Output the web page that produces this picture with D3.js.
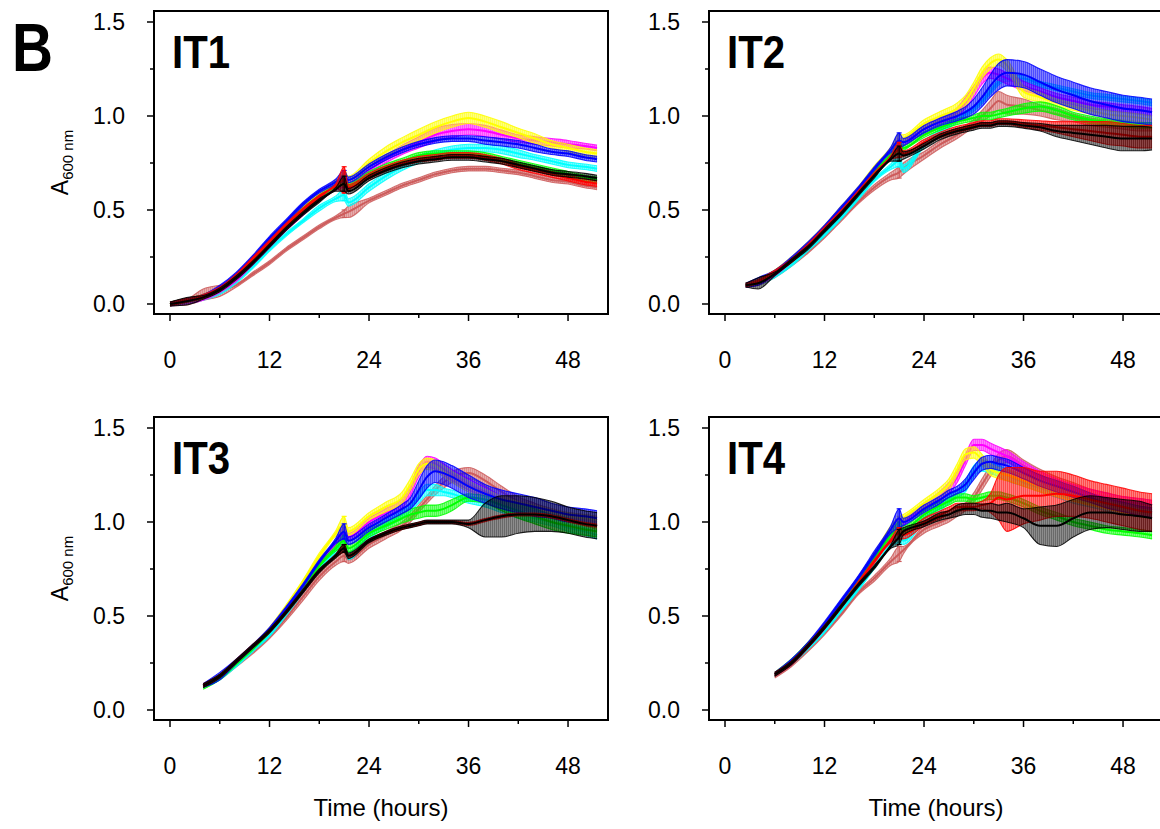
<!DOCTYPE html>
<html><head><meta charset="utf-8">
<script src="https://cdn.jsdelivr.net/npm/d3@7"></script>
<style>
body{margin:0;background:#fff}
svg{display:block}
text{font-family:"Liberation Sans",Arial,Helvetica,sans-serif;fill:#000}
</style>
</head><body>
<svg id="chart" width="1160" height="829"></svg>
<script>
// ---------------- DATA ----------------
const panelNames = ["IT1","IT2","IT3","IT4"];
const xTicks = [0,12,24,36,48];
const xMinorTicks = [6,18,30,42];
const yTicks = [0,0.5,1.0,1.5];
const yMinorTicks = [0.25,0.75,1.25];
const seriesNames = ["brown","cyan","magenta","yellow","green","blue","red","black"];
const seriesColors = ["#cd5c5c","#00ffff","#ff00ff","#ffff00","#00ff00","#0000ff","#ff0000","#000000"];

// IT1
const it1Times   = [0,2,4,6,8,10,12,14,16,18,20,21,21.5,24,26,28,30,32,34,36,38,40,42,44,46,48,50,51.5];
const it1Yellow  = [0.0,0.02,0.04,0.08,0.15,0.24,0.34,0.43,0.51,0.58,0.64,0.67,0.66,0.75,0.81,0.86,0.9,0.94,0.97,0.99,0.97,0.94,0.91,0.88,0.85,0.83,0.81,0.8];
const it1Magenta = [0.0,0.01,0.03,0.07,0.13,0.22,0.31,0.4,0.48,0.56,0.62,0.65,0.63,0.71,0.77,0.82,0.86,0.9,0.92,0.93,0.92,0.9,0.88,0.87,0.86,0.85,0.84,0.83];
const it1Blue    = [0.0,0.02,0.04,0.09,0.16,0.25,0.35,0.44,0.53,0.6,0.65,0.68,0.66,0.73,0.78,0.82,0.85,0.87,0.88,0.88,0.87,0.86,0.85,0.83,0.81,0.8,0.78,0.77];
const it1Cyan    = [0.0,0.01,0.03,0.06,0.12,0.2,0.29,0.37,0.44,0.51,0.56,0.58,0.54,0.62,0.68,0.73,0.77,0.8,0.82,0.83,0.83,0.82,0.8,0.78,0.76,0.74,0.73,0.72];
const it1Green   = [0.0,0.02,0.04,0.08,0.15,0.24,0.33,0.42,0.5,0.57,0.63,0.66,0.63,0.69,0.73,0.76,0.79,0.8,0.8,0.8,0.79,0.77,0.75,0.73,0.71,0.69,0.67,0.66];
const it1Red     = [0.0,0.02,0.04,0.08,0.15,0.24,0.33,0.42,0.5,0.57,0.63,0.66,0.62,0.68,0.72,0.75,0.77,0.78,0.79,0.79,0.78,0.76,0.73,0.71,0.69,0.67,0.65,0.64];
const it1Black   = [0.0,0.015,0.035,0.075,0.14,0.22,0.31,0.4,0.48,0.55,0.61,0.64,0.6,0.67,0.71,0.74,0.76,0.77,0.78,0.78,0.77,0.76,0.74,0.72,0.7,0.69,0.68,0.67];
const it1Brown   = [0.0,0.01,0.05,0.07,0.1,0.16,0.22,0.29,0.35,0.41,0.46,0.48,0.49,0.55,0.59,0.63,0.66,0.69,0.71,0.72,0.72,0.71,0.7,0.68,0.66,0.65,0.63,0.62];
const it1YellowSd  = [0.01,0.01,0.01,0.01,0.01,0.01,0.01,0.01,0.01,0.015,0.02,0.03,0.02,0.02,0.025,0.025,0.03,0.03,0.03,0.03,0.03,0.03,0.025,0.025,0.02,0.02,0.02,0.02];
const it1MagentaSd = [0.01,0.01,0.01,0.01,0.01,0.01,0.01,0.01,0.01,0.01,0.015,0.03,0.015,0.02,0.02,0.025,0.03,0.035,0.035,0.03,0.03,0.025,0.02,0.02,0.02,0.02,0.015,0.015];
const it1BlueSd    = [0.01,0.01,0.01,0.01,0.01,0.01,0.01,0.01,0.01,0.01,0.015,0.03,0.015,0.015,0.015,0.015,0.015,0.015,0.015,0.015,0.02,0.02,0.02,0.02,0.015,0.015,0.015,0.015];
const it1CyanSd    = [0.01,0.01,0.01,0.01,0.01,0.01,0.01,0.01,0.01,0.015,0.015,0.03,0.02,0.02,0.02,0.02,0.02,0.02,0.02,0.02,0.02,0.02,0.02,0.015,0.015,0.015,0.015,0.015];
const it1GreenSd   = [0.01,0.01,0.01,0.01,0.01,0.01,0.01,0.01,0.01,0.01,0.01,0.03,0.015,0.015,0.015,0.015,0.015,0.015,0.015,0.015,0.015,0.015,0.015,0.015,0.015,0.015,0.015,0.015];
const it1RedSd     = [0.01,0.01,0.01,0.01,0.01,0.01,0.01,0.01,0.01,0.01,0.01,0.07,0.015,0.015,0.015,0.015,0.015,0.015,0.015,0.015,0.015,0.015,0.015,0.015,0.015,0.015,0.015,0.015];
const it1BlackSd   = [0.01,0.02,0.01,0.01,0.01,0.01,0.01,0.01,0.01,0.01,0.01,0.04,0.015,0.015,0.015,0.015,0.015,0.015,0.015,0.015,0.015,0.015,0.015,0.015,0.015,0.015,0.015,0.015];
const it1BrownSd   = [0.01,0.015,0.03,0.03,0.01,0.01,0.01,0.01,0.01,0.01,0.01,0.02,0.03,0.012,0.012,0.012,0.012,0.012,0.012,0.012,0.012,0.012,0.012,0.012,0.012,0.012,0.012,0.012];

// IT2
const it2Times   = [2.5,4,6,8,10,12,14,16,18,20,21,21.5,24,26,28,29,30,31,32,33,34,36,38,40,42,44,46,48,50,51.5];
const it2Yellow  = [0.1,0.12,0.17,0.24,0.32,0.41,0.51,0.61,0.72,0.82,0.87,0.88,0.96,1.0,1.04,1.08,1.15,1.23,1.28,1.3,1.27,1.13,1.1,1.07,1.05,1.03,1.01,1.0,0.99,0.98];
const it2Magenta = [0.1,0.11,0.16,0.23,0.31,0.4,0.5,0.6,0.7,0.8,0.85,0.86,0.93,0.98,1.02,1.07,1.13,1.2,1.23,1.22,1.2,1.16,1.13,1.1,1.08,1.06,1.05,1.04,1.03,1.02];
const it2Blue    = [0.1,0.12,0.17,0.24,0.32,0.41,0.51,0.61,0.72,0.82,0.87,0.86,0.93,0.97,1.0,1.02,1.05,1.1,1.16,1.21,1.23,1.22,1.18,1.14,1.11,1.08,1.06,1.04,1.03,1.02];
const it2Cyan    = [0.1,0.11,0.15,0.21,0.29,0.37,0.46,0.56,0.66,0.73,0.76,0.72,0.85,0.92,0.98,1.01,1.04,1.08,1.13,1.18,1.2,1.2,1.17,1.15,1.13,1.11,1.1,1.09,1.08,1.07];
const it2Green   = [0.1,0.12,0.17,0.23,0.31,0.4,0.5,0.6,0.7,0.79,0.83,0.83,0.9,0.94,0.97,0.98,0.99,1.0,1.0,1.01,1.02,1.04,1.05,1.03,1.0,0.98,0.97,0.96,0.95,0.95];
const it2Red     = [0.1,0.12,0.17,0.23,0.31,0.4,0.49,0.59,0.69,0.78,0.82,0.8,0.86,0.9,0.93,0.94,0.95,0.96,0.96,0.97,0.97,0.96,0.95,0.94,0.93,0.92,0.91,0.9,0.89,0.89];
const it2Black   = [0.1,0.11,0.16,0.23,0.3,0.39,0.48,0.58,0.68,0.77,0.8,0.79,0.84,0.89,0.92,0.93,0.94,0.95,0.95,0.96,0.96,0.95,0.94,0.92,0.91,0.9,0.89,0.88,0.88,0.88];
const it2Brown   = [0.1,0.11,0.15,0.21,0.28,0.36,0.45,0.54,0.62,0.68,0.7,0.72,0.79,0.85,0.9,0.93,0.96,1.0,1.04,1.08,1.06,1.05,1.03,1.01,0.99,0.97,0.96,0.95,0.94,0.94];
const it2YellowSd  = [0.01,0.01,0.01,0.01,0.01,0.01,0.01,0.01,0.015,0.015,0.03,0.02,0.02,0.025,0.03,0.03,0.03,0.03,0.03,0.03,0.03,0.03,0.025,0.02,0.02,0.02,0.02,0.02,0.02,0.02];
const it2MagentaSd = [0.01,0.01,0.01,0.01,0.01,0.01,0.01,0.01,0.01,0.015,0.03,0.02,0.02,0.02,0.025,0.03,0.03,0.03,0.03,0.03,0.03,0.025,0.02,0.02,0.02,0.02,0.02,0.02,0.02,0.02];
const it2BlueSd    = [0.01,0.02,0.01,0.01,0.01,0.01,0.01,0.01,0.01,0.015,0.04,0.02,0.02,0.02,0.025,0.03,0.04,0.05,0.06,0.07,0.07,0.07,0.07,0.07,0.07,0.07,0.07,0.07,0.07,0.07];
const it2CyanSd    = [0.01,0.01,0.01,0.01,0.01,0.01,0.01,0.01,0.01,0.015,0.03,0.02,0.015,0.015,0.015,0.015,0.015,0.015,0.015,0.015,0.015,0.015,0.015,0.015,0.015,0.015,0.015,0.015,0.015,0.015];
const it2GreenSd   = [0.01,0.01,0.01,0.01,0.01,0.01,0.01,0.01,0.01,0.015,0.03,0.015,0.015,0.015,0.015,0.015,0.015,0.02,0.02,0.02,0.02,0.025,0.025,0.025,0.02,0.02,0.015,0.015,0.015,0.015];
const it2RedSd     = [0.01,0.01,0.01,0.01,0.01,0.01,0.01,0.01,0.01,0.01,0.04,0.015,0.015,0.015,0.015,0.015,0.015,0.015,0.015,0.015,0.015,0.02,0.025,0.03,0.04,0.05,0.06,0.06,0.06,0.06];
const it2BlackSd   = [0.01,0.03,0.01,0.01,0.01,0.01,0.01,0.01,0.01,0.01,0.04,0.02,0.015,0.015,0.015,0.015,0.015,0.015,0.015,0.015,0.015,0.015,0.02,0.03,0.04,0.05,0.06,0.065,0.065,0.06];
const it2BrownSd   = [0.01,0.01,0.01,0.01,0.01,0.01,0.01,0.01,0.015,0.02,0.03,0.03,0.02,0.02,0.02,0.02,0.02,0.03,0.04,0.05,0.05,0.04,0.03,0.03,0.02,0.02,0.02,0.02,0.02,0.02];

// IT3
const it3Times   = [4,6,8,10,12,14,16,18,20,21,21.5,24,26,28,29,30,31,32,33,34,36,38,40,42,44,46,48,50,51.5];
const it3Yellow  = [0.13,0.18,0.26,0.34,0.43,0.55,0.68,0.82,0.94,0.99,0.95,1.03,1.08,1.13,1.2,1.28,1.31,1.3,1.27,1.24,1.19,1.15,1.12,1.09,1.07,1.05,1.03,1.02,1.01];
const it3Magenta = [0.13,0.18,0.26,0.34,0.42,0.53,0.65,0.78,0.89,0.94,0.92,1.0,1.05,1.1,1.17,1.27,1.32,1.31,1.28,1.25,1.2,1.16,1.12,1.09,1.07,1.05,1.03,1.02,1.01];
const it3Blue    = [0.13,0.18,0.26,0.34,0.43,0.54,0.66,0.79,0.9,0.95,0.9,0.97,1.02,1.07,1.1,1.17,1.24,1.27,1.26,1.24,1.19,1.15,1.12,1.1,1.08,1.06,1.04,1.03,1.02];
const it3Cyan    = [0.13,0.17,0.24,0.32,0.4,0.51,0.63,0.75,0.85,0.88,0.82,0.93,0.99,1.04,1.08,1.13,1.17,1.17,1.16,1.15,1.12,1.1,1.07,1.04,1.02,1.0,0.97,0.95,0.93];
const it3Green   = [0.12,0.17,0.25,0.33,0.42,0.53,0.65,0.77,0.86,0.9,0.86,0.94,0.98,1.02,1.04,1.05,1.06,1.06,1.07,1.09,1.13,1.12,1.09,1.06,1.03,1.0,0.98,0.96,0.95];
const it3Red     = [0.13,0.18,0.26,0.34,0.42,0.52,0.63,0.74,0.82,0.86,0.82,0.9,0.94,0.97,0.98,0.99,1.0,1.0,1.0,1.0,0.99,1.01,1.03,1.04,1.04,1.03,1.01,0.99,0.98];
const it3Black   = [0.13,0.18,0.26,0.34,0.42,0.52,0.63,0.74,0.82,0.86,0.82,0.9,0.94,0.97,0.98,0.99,1.0,1.0,1.0,1.0,0.99,1.01,1.03,1.04,1.04,1.03,1.01,0.99,0.98];
const it3Brown   = [0.13,0.17,0.24,0.31,0.39,0.49,0.6,0.71,0.79,0.82,0.8,0.88,0.93,0.98,1.02,1.07,1.12,1.17,1.21,1.24,1.26,1.22,1.16,1.11,1.08,1.05,1.02,1.0,0.98];
const it3YellowSd  = [0.01,0.01,0.01,0.01,0.01,0.01,0.01,0.015,0.015,0.04,0.02,0.02,0.025,0.03,0.03,0.03,0.03,0.03,0.03,0.03,0.03,0.025,0.02,0.02,0.02,0.02,0.02,0.02,0.02];
const it3MagentaSd = [0.01,0.01,0.01,0.01,0.01,0.01,0.01,0.01,0.015,0.03,0.02,0.02,0.02,0.025,0.03,0.03,0.03,0.03,0.03,0.03,0.03,0.025,0.02,0.02,0.02,0.02,0.02,0.02,0.02];
const it3BlueSd    = [0.01,0.02,0.01,0.01,0.01,0.01,0.01,0.01,0.015,0.04,0.02,0.02,0.02,0.025,0.03,0.05,0.06,0.06,0.06,0.06,0.06,0.05,0.05,0.05,0.05,0.04,0.04,0.04,0.04];
const it3CyanSd    = [0.01,0.01,0.01,0.01,0.01,0.01,0.01,0.01,0.015,0.03,0.02,0.02,0.02,0.02,0.025,0.03,0.03,0.03,0.02,0.02,0.02,0.02,0.02,0.02,0.02,0.02,0.02,0.02,0.02];
const it3GreenSd   = [0.01,0.01,0.01,0.01,0.01,0.01,0.01,0.01,0.015,0.03,0.02,0.02,0.02,0.025,0.03,0.03,0.03,0.03,0.03,0.03,0.02,0.02,0.03,0.04,0.04,0.04,0.04,0.03,0.03];
const it3RedSd     = [0.008,0.008,0.008,0.008,0.008,0.008,0.008,0.008,0.008,0.02,0.008,0.008,0.008,0.008,0.008,0.008,0.008,0.008,0.008,0.008,0.008,0.008,0.008,0.008,0.008,0.008,0.008,0.008,0.008];
const it3BlackSd   = [0.01,0.01,0.01,0.01,0.01,0.01,0.01,0.01,0.01,0.02,0.015,0.01,0.01,0.01,0.01,0.01,0.01,0.01,0.01,0.01,0.02,0.09,0.11,0.1,0.09,0.08,0.07,0.07,0.07];
const it3BrownSd   = [0.01,0.01,0.01,0.01,0.01,0.015,0.02,0.02,0.02,0.03,0.02,0.02,0.02,0.02,0.02,0.02,0.02,0.025,0.03,0.03,0.03,0.03,0.03,0.025,0.02,0.02,0.02,0.02,0.02];

// IT4
const it4Times   = [6,8,10,12,14,16,18,20,21,21.5,24,26,27,28,29,30,31,32,33,34,36,38,40,42,44,46,48,50,51.5];
const it4Yellow  = [0.19,0.26,0.35,0.45,0.57,0.69,0.82,0.96,1.0,1.02,1.1,1.16,1.2,1.28,1.36,1.37,1.33,1.28,1.26,1.25,1.22,1.19,1.16,1.13,1.11,1.09,1.07,1.05,1.04];
const it4Magenta = [0.19,0.25,0.34,0.44,0.56,0.68,0.8,0.93,0.98,1.0,1.08,1.14,1.18,1.24,1.33,1.41,1.41,1.39,1.37,1.35,1.29,1.24,1.2,1.17,1.15,1.13,1.11,1.1,1.09];
const it4Blue    = [0.19,0.26,0.35,0.46,0.58,0.7,0.83,0.96,1.02,1.0,1.07,1.12,1.15,1.17,1.2,1.26,1.31,1.32,1.31,1.3,1.26,1.22,1.19,1.16,1.13,1.1,1.08,1.06,1.05];
const it4Cyan    = [0.19,0.25,0.33,0.42,0.53,0.64,0.76,0.88,0.93,0.9,1.02,1.08,1.12,1.15,1.19,1.27,1.3,1.29,1.27,1.25,1.21,1.18,1.15,1.12,1.1,1.08,1.06,1.05,1.04];
const it4Green   = [0.19,0.26,0.35,0.45,0.57,0.69,0.81,0.93,0.97,0.96,1.04,1.09,1.11,1.13,1.13,1.12,1.13,1.14,1.14,1.13,1.1,1.06,1.03,1.0,0.98,0.96,0.95,0.94,0.93];
const it4Red     = [0.19,0.25,0.34,0.44,0.55,0.67,0.79,0.9,0.94,0.93,1.0,1.04,1.06,1.08,1.08,1.08,1.09,1.1,1.13,1.12,1.14,1.14,1.15,1.14,1.12,1.1,1.08,1.06,1.05];
const it4Black   = [0.19,0.25,0.34,0.44,0.55,0.66,0.76,0.87,0.92,0.95,0.99,1.03,1.04,1.06,1.07,1.07,1.06,1.06,1.05,1.05,1.02,0.98,0.98,1.02,1.05,1.05,1.04,1.03,1.02];
const it4Brown   = [0.18,0.24,0.32,0.41,0.51,0.62,0.7,0.79,0.83,0.85,0.96,1.0,1.02,1.05,1.08,1.13,1.2,1.27,1.33,1.35,1.3,1.25,1.21,1.18,1.15,1.13,1.11,1.1,1.09];
const it4YellowSd  = [0.01,0.01,0.01,0.01,0.01,0.015,0.015,0.02,0.03,0.02,0.02,0.025,0.03,0.03,0.03,0.03,0.03,0.03,0.03,0.03,0.03,0.03,0.025,0.02,0.02,0.02,0.02,0.02,0.02];
const it4MagentaSd = [0.01,0.01,0.01,0.01,0.01,0.01,0.015,0.02,0.03,0.02,0.02,0.025,0.03,0.03,0.03,0.03,0.03,0.03,0.03,0.03,0.03,0.03,0.03,0.03,0.025,0.025,0.025,0.025,0.025];
const it4BlueSd    = [0.01,0.01,0.01,0.01,0.01,0.01,0.015,0.02,0.05,0.02,0.02,0.02,0.02,0.02,0.03,0.035,0.035,0.035,0.035,0.035,0.03,0.03,0.03,0.03,0.025,0.025,0.025,0.025,0.025];
const it4CyanSd    = [0.01,0.01,0.01,0.01,0.01,0.01,0.01,0.015,0.04,0.02,0.02,0.02,0.02,0.02,0.03,0.03,0.03,0.03,0.03,0.03,0.02,0.02,0.02,0.02,0.02,0.02,0.02,0.02,0.02];
const it4GreenSd   = [0.01,0.01,0.01,0.01,0.01,0.01,0.01,0.015,0.03,0.02,0.02,0.02,0.02,0.02,0.02,0.02,0.02,0.02,0.02,0.02,0.02,0.02,0.02,0.02,0.02,0.02,0.02,0.02,0.02];
const it4RedSd     = [0.01,0.01,0.01,0.01,0.01,0.01,0.01,0.01,0.03,0.02,0.02,0.02,0.02,0.02,0.02,0.02,0.02,0.05,0.12,0.17,0.15,0.13,0.12,0.11,0.1,0.1,0.1,0.1,0.1];
const it4BlackSd   = [0.01,0.01,0.01,0.01,0.01,0.01,0.01,0.01,0.04,0.02,0.015,0.02,0.02,0.03,0.03,0.03,0.035,0.04,0.04,0.05,0.05,0.1,0.11,0.1,0.09,0.08,0.08,0.08,0.07];
const it4BrownSd   = [0.01,0.01,0.01,0.01,0.01,0.01,0.015,0.02,0.04,0.02,0.02,0.02,0.02,0.02,0.02,0.025,0.03,0.03,0.035,0.035,0.03,0.03,0.03,0.03,0.025,0.025,0.025,0.025,0.025];

// ---------------- assemble (order = seriesNames) ----------------
const panelTimes = [it1Times, it2Times, it3Times, it4Times];
const panelMeans = [
  [it1Brown,it1Cyan,it1Magenta,it1Yellow,it1Green,it1Blue,it1Red,it1Black],
  [it2Brown,it2Cyan,it2Magenta,it2Yellow,it2Green,it2Blue,it2Red,it2Black],
  [it3Brown,it3Cyan,it3Magenta,it3Yellow,it3Green,it3Blue,it3Red,it3Black],
  [it4Brown,it4Cyan,it4Magenta,it4Yellow,it4Green,it4Blue,it4Red,it4Black]
];
const panelSds = [
  [it1BrownSd,it1CyanSd,it1MagentaSd,it1YellowSd,it1GreenSd,it1BlueSd,it1RedSd,it1BlackSd],
  [it2BrownSd,it2CyanSd,it2MagentaSd,it2YellowSd,it2GreenSd,it2BlueSd,it2RedSd,it2BlackSd],
  [it3BrownSd,it3CyanSd,it3MagentaSd,it3YellowSd,it3GreenSd,it3BlueSd,it3RedSd,it3BlackSd],
  [it4BrownSd,it4CyanSd,it4MagentaSd,it4YellowSd,it4GreenSd,it4BlueSd,it4RedSd,it4BlackSd]
];

// ---------------- layout ----------------
const W = 454, H = 303;
const origins = [[154,11],[709,11],[154,417],[709,417]];
const svg = d3.select("#chart");
const defs = svg.append("defs");

// vertical hatch pattern per colour (dense error-bar look)
seriesNames.forEach((s,k) => {
  const col = seriesColors[k];
  const pat = defs.append("pattern").attr("id","hatch-"+s)
    .attr("patternUnits","userSpaceOnUse").attr("width",2).attr("height",8);
  pat.append("rect").attr("width",2).attr("height",8).attr("fill",col).attr("fill-opacity", s==="black"?0.45:0.5);
  pat.append("rect").attr("width",1).attr("height",8).attr("fill",col).attr("fill-opacity", s==="black"?0.25:0.4);
});

const x = d3.scaleLinear().domain([-1.93, 52.82]).range([0, W]);
const y = d3.scaleLinear().domain([-0.0532, 1.5585]).range([H, 0]);

svg.append("text").attr("x",12).attr("y",71)
  .attr("font-size",68).attr("font-weight","bold")
  .attr("textLength",41).attr("lengthAdjust","spacingAndGlyphs").text("B");

panelNames.forEach((name, p) => {
  const [ox, oy] = origins[p];
  const g = svg.append("g").attr("transform",`translate(${ox},${oy})`);
  const clipId = "clip"+p;
  g.append("clipPath").attr("id",clipId).append("rect").attr("width",W).attr("height",H);
  const plot = g.append("g").attr("clip-path",`url(#${clipId})`);

  const times = panelTimes[p];
  seriesNames.forEach((s, k) => {
    const col = seriesColors[k];
    const m = panelMeans[p][k], sd = panelSds[p][k];
    const pts = times.map((t,i) => ({t, m:m[i], sd:sd[i]}));
    const area = d3.area().curve(d3.curveMonotoneX)
      .x(d => x(d.t)).y0(d => y(d.m - d.sd)).y1(d => y(d.m + d.sd));
    const line = d3.line().curve(d3.curveMonotoneX).x(d => x(d.t));
    plot.append("path").datum(pts).attr("d", area).attr("fill", `url(#hatch-${s})`);
    plot.append("path").datum(pts).attr("d", line.y(d => y(d.m + d.sd)))
      .attr("fill","none").attr("stroke",col).attr("stroke-width",1.1).attr("stroke-opacity",0.85);
    plot.append("path").datum(pts).attr("d", line.y(d => y(d.m - d.sd)))
      .attr("fill","none").attr("stroke",col).attr("stroke-width",1.1).attr("stroke-opacity",0.85);
    plot.append("path").datum(pts).attr("d", line.y(d => y(d.m)))
      .attr("fill","none").attr("stroke",col).attr("stroke-width",2);
    // error bar at the interruption (t = 21)
    pts.filter(d => d.t === 21).forEach(d => {
      const gx = x(d.t);
      plot.append("line").attr("x1",gx).attr("x2",gx).attr("y1",y(d.m-d.sd)).attr("y2",y(d.m+d.sd))
        .attr("stroke",col).attr("stroke-width",1.2);
      [d.m-d.sd, d.m+d.sd].forEach(v => plot.append("line").attr("x1",gx-2.5).attr("x2",gx+2.5)
        .attr("y1",y(v)).attr("y2",y(v)).attr("stroke",col).attr("stroke-width",1.2));
    });
  });

  // frame
  g.append("rect").attr("width",W).attr("height",H).attr("fill","none")
    .attr("stroke","#000").attr("stroke-width",2);

  // y ticks
  yTicks.forEach(v => {
    g.append("line").attr("x1",-7).attr("x2",0).attr("y1",y(v)).attr("y2",y(v)).attr("stroke","#000").attr("stroke-width",1.5);
    g.append("text").attr("x",-29).attr("y",y(v)).attr("dy","0.36em").attr("text-anchor","end")
      .attr("font-size",23).text(d3.format(".1f")(v));
  });
  yMinorTicks.forEach(v => {
    g.append("line").attr("x1",-4).attr("x2",0).attr("y1",y(v)).attr("y2",y(v)).attr("stroke","#000").attr("stroke-width",1.5);
  });
  // x ticks
  xTicks.forEach(v => {
    g.append("line").attr("x1",x(v)).attr("x2",x(v)).attr("y1",H).attr("y2",H+7).attr("stroke","#000").attr("stroke-width",1.5);
    g.append("text").attr("x",x(v)).attr("y",H+54).attr("text-anchor","middle")
      .attr("font-size",23).text(v);
  });
  xMinorTicks.forEach(v => {
    g.append("line").attr("x1",x(v)).attr("x2",x(v)).attr("y1",H).attr("y2",H+4).attr("stroke","#000").attr("stroke-width",1.5);
  });

  // panel title
  g.append("text").attr("x",18).attr("y",57).attr("font-size",46).attr("font-weight","bold")
    .attr("textLength",58).attr("lengthAdjust","spacingAndGlyphs").text(name);

  // axis titles
  if (p >= 2) {
    g.append("text").attr("x",W/2).attr("y",H+96).attr("text-anchor","middle")
      .attr("font-size",24).text("Time (hours)");
  }
  if (p % 2 === 0) {
    const t = g.append("text").attr("transform",`translate(${68-ox},${H/2}) rotate(-90)`)
      .attr("text-anchor","middle").attr("font-size",23);
    t.append("tspan").text("A");
    t.append("tspan").attr("font-size",15).attr("dy",5).text("600 nm");
  }
});
</script>
</body></html>
